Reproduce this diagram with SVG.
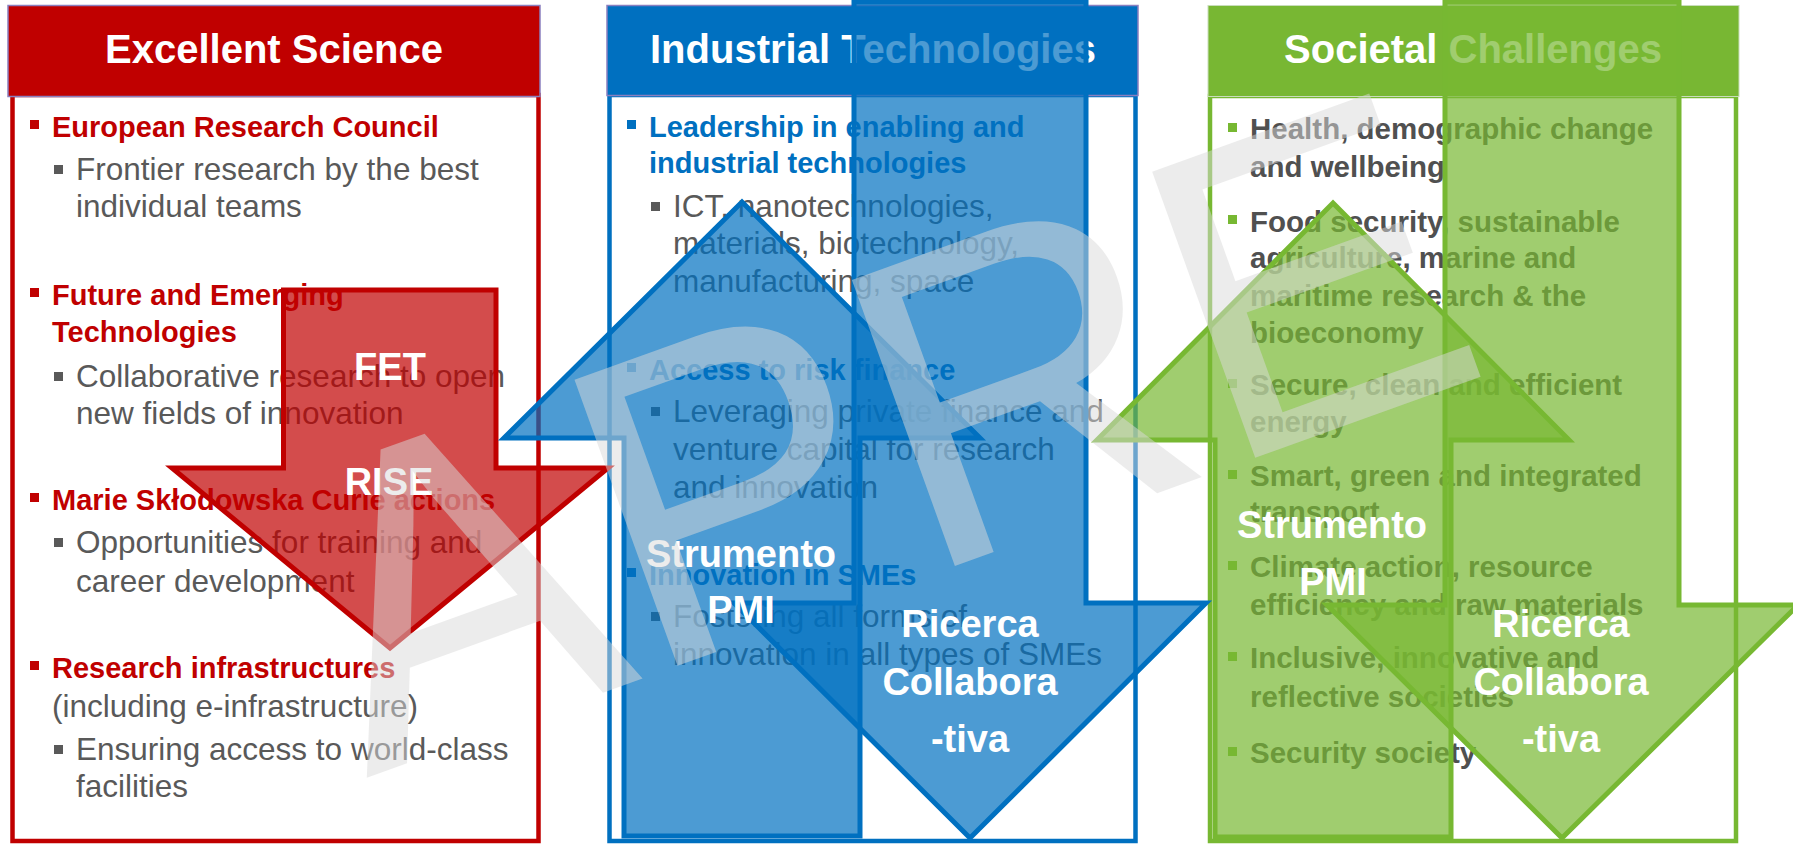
<svg xmlns="http://www.w3.org/2000/svg" width="1793" height="844" viewBox="0 0 1793 844">
<style>
text{font-family:"Liberation Sans",Arial,sans-serif}
.hd{font-size:40px;font-weight:bold;fill:#fff;text-anchor:middle}
.h{font-size:29px;font-weight:bold}
.hr{fill:#C00000}
.hb{fill:#0070C0}
.hg{fill:#505050;font-size:29.5px;font-weight:bold}
.t{font-size:31.5px;fill:#595959}
.lab{font-size:38px;font-weight:bold;fill:#fff;text-anchor:middle}
.bR{fill:#C00000}.bB{fill:#0070C0}.bG{fill:#77B832}.bS{fill:#595959}
.aR{fill:#C00000;fill-opacity:.7;stroke:#C00000;stroke-width:5}
.aB{fill:#0070C0;fill-opacity:.7;stroke:#0070C0;stroke-width:5}
.aG{fill:#77B832;fill-opacity:.7;stroke:#77B832;stroke-width:5}
.wm{font-size:442px;fill:#D9D9D9;fill-opacity:.5}
</style>

<g id="panel-excellent-science">
  <rect x="12.5" y="95" width="526" height="746" fill="#fff" stroke="#C00000" stroke-width="4.5"/>
  <rect x="8" y="5.5" width="532" height="91" fill="#C00000" stroke="#8A7FBF" stroke-width="1.5"/>
  <text class="hd" x="274" y="63">Excellent Science</text>
  <rect class="bR" x="30" y="120" width="9" height="9"/>
  <text class="h hr" x="52" y="137">European Research Council</text>
  <rect class="bS" x="54" y="165" width="9" height="9"/>
  <text class="t" x="76" y="180">Frontier research by the best</text>
  <text class="t" x="76" y="217">individual teams</text>
  <rect class="bR" x="30" y="288" width="9" height="9"/>
  <text class="h hr" x="52" y="305">Future and Emerging</text>
  <text class="h hr" x="52" y="342">Technologies</text>
  <rect class="bS" x="54" y="372" width="9" height="9"/>
  <text class="t" x="76" y="387">Collaborative research to open</text>
  <text class="t" x="76" y="424">new fields of innovation</text>
  <rect class="bR" x="30" y="493" width="9" height="9"/>
  <text class="h hr" x="52" y="510">Marie Skłodowska Curie actions</text>
  <rect class="bS" x="54" y="538" width="9" height="9"/>
  <text class="t" x="76" y="553">Opportunities for training and</text>
  <text class="t" x="76" y="592">career development</text>
  <rect class="bR" x="30" y="661" width="9" height="9"/>
  <text class="h hr" x="52" y="678">Research infrastructures</text>
  <text class="t" x="52" y="717">(including e-infrastructure)</text>
  <rect class="bS" x="54" y="745" width="9" height="9"/>
  <text class="t" x="76" y="760">Ensuring access to world-class</text>
  <text class="t" x="76" y="797">facilities</text>
</g>

<g id="panel-industrial-technologies">
  <rect x="609.5" y="95" width="526" height="746" fill="#fff" stroke="#0070C0" stroke-width="4.5"/>
  <rect x="607" y="5.5" width="531" height="90" fill="#0070C0" stroke="#8A7FBF" stroke-width="1.5"/>
  <text class="hd" x="873" y="63">Industrial Technologies</text>
  <rect class="bB" x="627" y="120" width="9" height="9"/>
  <text class="h hb" x="649" y="137">Leadership in enabling and</text>
  <text class="h hb" x="649" y="173">industrial technologies</text>
  <rect class="bS" x="651" y="202" width="9" height="9"/>
  <text class="t" x="673" y="217">ICT, nanotechnologies,</text>
  <text class="t" x="673" y="254">materials, biotechnology,</text>
  <text class="t" x="673" y="292">manufacturing, space</text>
  <rect class="bB" x="627" y="363" width="9" height="9"/>
  <text class="h hb" x="649" y="380">Access to risk finance</text>
  <rect class="bS" x="651" y="407" width="9" height="9"/>
  <text class="t" x="673" y="422">Leveraging private finance and</text>
  <text class="t" x="673" y="460">venture capital for research</text>
  <text class="t" x="673" y="498">and innovation</text>
  <rect class="bB" x="627" y="568" width="9" height="9"/>
  <text class="h hb" x="649" y="585">Innovation in SMEs</text>
  <rect class="bS" x="651" y="612" width="9" height="9"/>
  <text class="t" x="673" y="627">Fostering all forms of</text>
  <text class="t" x="673" y="665">innovation in all types of SMEs</text>
</g>

<g id="panel-societal-challenges">
  <rect x="1210" y="96" width="526" height="745" fill="#fff" stroke="#77B832" stroke-width="4.5"/>
  <rect x="1208" y="5.5" width="531" height="91" fill="#78B733" stroke="#C9DDBB" stroke-width="1"/>
  <text class="hd" x="1473" y="63">Societal Challenges</text>
  <rect class="bG" x="1228" y="123" width="9" height="9"/>
  <text class="hg" x="1250" y="139">Health, demographic change</text>
  <text class="hg" x="1250" y="177">and wellbeing</text>
  <rect class="bG" x="1228" y="215" width="9" height="9"/>
  <text class="hg" x="1250" y="232">Food security, sustainable</text>
  <text class="hg" x="1250" y="268">agriculture, marine and</text>
  <text class="hg" x="1250" y="306">maritime research &amp; the</text>
  <text class="hg" x="1250" y="343">bioeconomy</text>
  <rect class="bG" x="1228" y="379" width="9" height="9"/>
  <text class="hg" x="1250" y="395">Secure, clean and efficient</text>
  <text class="hg" x="1250" y="432">energy</text>
  <rect class="bG" x="1228" y="470" width="9" height="9"/>
  <text class="hg" x="1250" y="486">Smart, green and integrated</text>
  <text class="hg" x="1250" y="522">transport</text>
  <rect class="bG" x="1228" y="561" width="9" height="9"/>
  <text class="hg" x="1250" y="577">Climate action, resource</text>
  <text class="hg" x="1250" y="615">efficiency and raw materials</text>
  <rect class="bG" x="1228" y="652" width="9" height="9"/>
  <text class="hg" x="1250" y="668">Inclusive, innovative and</text>
  <text class="hg" x="1250" y="707">reflective societies</text>
  <rect class="bG" x="1228" y="747" width="9" height="9"/>
  <text class="hg" x="1250" y="763">Security society</text>
</g>

<g id="connectors">
  <rect x="1517" y="0" width="153" height="3" fill="#0070C0"/>
  <polygon id="arrow-fet" class="aR" points="283.5,290 496,290 496,468 608,468 390,648 172,468 283.5,468"/>
  <polygon id="arrow-blue-up" class="aB" points="742,202 980,438 860,438 860,836 624,836 624,438 504,438"/>
  <polygon id="arrow-blue-down" class="aB" points="854,2 1086,2 1086,603 1206,603 970,838 734,603 854,603"/>
  <polygon id="arrow-green-up" class="aG" points="1333,203 1569,440 1451,440 1451,837 1215,837 1215,440 1097,440"/>
  <polygon id="arrow-green-down" class="aG" points="1445,2 1679,2 1679,605 1798,605 1562,838 1327,605 1445,605"/>
</g>

<g id="arrow-labels">
  <text class="lab" x="390" y="380">FET</text>
  <text class="lab" x="389" y="495">RISE</text>
  <text class="lab" x="741" y="567">Strumento</text>
  <text class="lab" x="741" y="623">PMI</text>
  <text class="lab" x="970" y="637">Ricerca</text>
  <text class="lab" x="970" y="695">Collabora</text>
  <text class="lab" x="970" y="752">-tiva</text>
  <text class="lab" x="1332" y="538">Strumento</text>
  <text class="lab" x="1333" y="595">PMI</text>
  <text class="lab" x="1561" y="637">Ricerca</text>
  <text class="lab" x="1561" y="695">Collabora</text>
  <text class="lab" x="1561" y="752">-tiva</text>
</g>

<g id="watermark">
  <text class="wm" x="366" y="778" transform="rotate(-19.8 366 778)">APRE</text>
</g>
</svg>
